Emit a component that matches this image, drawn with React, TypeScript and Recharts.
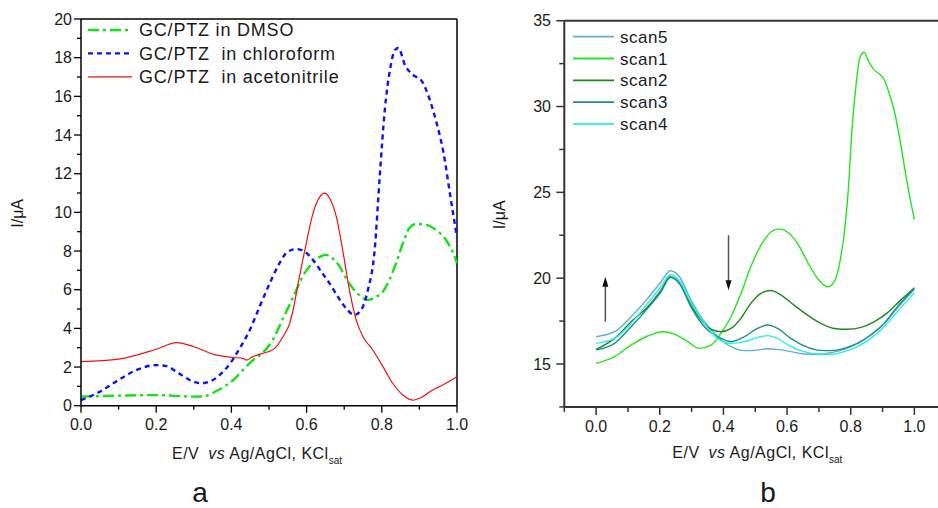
import { LineChart, Line, XAxis, YAxis, ReferenceLine } from 'recharts'

const FONT = '"Liberation Sans", Arial, Helvetica, sans-serif'

// panel a: GC/PTZ in three solvents
const dmsoE = [0, 0.1, 0.2, 0.3, 0.325, 0.351, 0.378, 0.405, 0.431, 0.457, 0.484, 0.51, 0.537, 0.564, 0.59, 0.617, 0.639, 0.652, 0.67, 0.688, 0.705, 0.723, 0.745, 0.763, 0.785, 0.803, 0.82, 0.838, 0.856, 0.873, 0.891, 0.918, 0.944, 0.971, 0.988, 1.0]
const dmsoI = [0.47, 0.52, 0.55, 0.47, 0.48, 0.67, 0.95, 1.33, 1.85, 2.35, 2.75, 3.4, 4.5, 5.6, 6.7, 7.4, 7.74, 7.8, 7.6, 7.19, 6.59, 6.07, 5.64, 5.47, 5.64, 5.9, 6.5, 7.37, 8.4, 9.18, 9.4, 9.35, 9.09, 8.57, 7.97, 7.37]

const chloroE = [0, 0.05, 0.1, 0.148, 0.2, 0.227, 0.254, 0.289, 0.32, 0.351, 0.378, 0.4, 0.422, 0.449, 0.475, 0.502, 0.528, 0.55, 0.573, 0.595, 0.617, 0.639, 0.661, 0.683, 0.705, 0.727, 0.745, 0.763, 0.781, 0.795, 0.808, 0.822, 0.835, 0.844, 0.862, 0.884, 0.906, 0.928, 0.946, 0.964, 0.981, 1.0]
const chloroI = [0.29, 0.72, 1.33, 1.85, 2.1, 2.05, 1.76, 1.33, 1.16, 1.33, 1.76, 2.28, 2.97, 3.92, 5.12, 6.33, 7.37, 7.97, 8.1, 7.97, 7.54, 6.93, 6.33, 5.64, 5.04, 4.69, 4.95, 5.98, 8.05, 12.0, 15.3, 17.4, 18.4, 18.5, 17.6, 17.1, 16.8, 15.8, 14.6, 13.1, 11.0, 8.7]

const acnE = [0, 0.1, 0.2, 0.254, 0.3, 0.351, 0.4, 0.431, 0.44, 0.457, 0.484, 0.5, 0.52, 0.537, 0.555, 0.564, 0.581, 0.599, 0.617, 0.635, 0.648, 0.661, 0.679, 0.696, 0.714, 0.732, 0.75, 0.776, 0.803, 0.829, 0.856, 0.882, 0.909, 0.935, 0.962, 1.0]
const acnI = [2.28, 2.41, 2.92, 3.26, 3.05, 2.67, 2.5, 2.45, 2.36, 2.54, 2.71, 2.8, 3.05, 3.57, 4.26, 4.95, 6.67, 8.4, 9.95, 10.8, 10.99, 10.73, 9.78, 8.05, 5.98, 4.43, 3.57, 2.88, 2.02, 1.16, 0.55, 0.29, 0.47, 0.81, 1.07, 1.5]

// panel b: successive scans
const scan1E = [0, 0.058, 0.11, 0.162, 0.209, 0.246, 0.288, 0.324, 0.361, 0.392, 0.424, 0.455, 0.486, 0.518, 0.549, 0.575, 0.601, 0.633, 0.664, 0.696, 0.727, 0.748, 0.767, 0.782, 0.793, 0.803, 0.817, 0.829, 0.842, 0.855, 0.871, 0.892, 0.902, 0.918, 0.939, 0.955, 0.976, 1.0]
const scan1I = [15.04, 15.43, 16.1, 16.63, 16.88, 16.74, 16.3, 15.91, 16.1, 16.78, 17.75, 19.1, 20.66, 21.92, 22.69, 22.87, 22.69, 22.02, 20.95, 19.98, 19.5, 19.79, 21.05, 22.98, 25.3, 28.41, 31.32, 32.87, 33.16, 32.67, 32.19, 31.86, 31.67, 30.93, 29.58, 28.02, 25.7, 23.41]

const scan2E = [0, 0.058, 0.11, 0.162, 0.204, 0.233, 0.262, 0.298, 0.33, 0.361, 0.392, 0.424, 0.455, 0.486, 0.518, 0.549, 0.581, 0.622, 0.664, 0.706, 0.748, 0.79, 0.832, 0.873, 0.915, 0.957, 1.0]
const scan2I = [15.85, 16.49, 17.46, 18.33, 19.3, 20.08, 19.69, 18.43, 17.56, 17.03, 16.88, 17.07, 17.66, 18.53, 19.11, 19.28, 19.01, 18.43, 17.85, 17.36, 17.07, 17.02, 17.13, 17.46, 17.98, 18.72, 19.44]

const scanE = [0, 0.058, 0.11, 0.162, 0.204, 0.233, 0.262, 0.298, 0.34, 0.382, 0.424, 0.466, 0.507, 0.539, 0.57, 0.612, 0.654, 0.696, 0.738, 0.779, 0.821, 0.863, 0.905, 0.946, 1.0]
const scan3I = [15.82, 16.2, 17.17, 18.24, 19.2, 20.04, 19.69, 18.33, 17.17, 16.59, 16.3, 16.59, 17.07, 17.27, 17.07, 16.49, 16.05, 15.81, 15.78, 15.91, 16.2, 16.69, 17.36, 18.33, 19.4]
const scan4I = [16.2, 16.49, 17.36, 18.53, 19.5, 20.2, 19.85, 18.6, 17.36, 16.49, 16.2, 16.3, 16.55, 16.65, 16.49, 16.01, 15.72, 15.58, 15.56, 15.72, 16.01, 16.49, 17.17, 18.04, 19.15]
const scan5I = [16.59, 16.88, 17.75, 18.82, 19.79, 20.43, 20.08, 18.72, 17.46, 16.59, 16.01, 15.78, 15.81, 15.89, 15.85, 15.72, 15.58, 15.56, 15.66, 15.85, 16.2, 16.69, 17.36, 18.24, 19.34]

const ticksXA = [0, 0.1, 0.2, 0.3, 0.4, 0.5, 0.6, 0.7, 0.8, 0.9, 1.0]
const ticksYA = [0, 1, 2, 3, 4, 5, 6, 7, 8, 9, 10, 11, 12, 13, 14, 15, 16, 17, 18, 19, 20]
const ticksXB = [-0.1, 0, 0.1, 0.2, 0.3, 0.4, 0.5, 0.6, 0.7, 0.8, 0.9, 1.0, 1.1]
const ticksYB = [12.5, 15, 17.5, 20, 22.5, 25, 27.5, 30, 32.5, 35]

const legendA = ['GC/PTZ in DMSO', 'GC/PTZ  in chloroform', 'GC/PTZ  in acetonitrile']
const legendB = ['scan5', 'scan1', 'scan2', 'scan3', 'scan4']

const zip = (e: number[], i: number[]) => e.map((v, k) => ({ e: v, i: i[k] }))

const evenTenth = (v: number) => Math.round(v * 10) % 2 === 0
const evenInt = (v: number) => v % 2 === 0
const fifth = (v: number) => v % 5 === 0

function BottomTick(props: any) {
  const { x, y, payload, cfg } = props
  const v = payload.value
  const big = cfg.major(v)
  return (
    <g>
      <line x1={x} y1={y} x2={x} y2={y + (big ? cfg.majorLen : cfg.minorLen)} stroke={cfg.stroke} strokeWidth={cfg.sw} />
      {big && (
        <text x={x} y={y + cfg.gap} textAnchor="middle" fontSize={16} fontFamily={FONT} fill="#1a1a1a">
          {Number(v).toFixed(1)}
        </text>
      )}
    </g>
  )
}

function LeftTick(props: any) {
  const { x, y, payload, cfg } = props
  const v = payload.value
  const big = cfg.major(v)
  return (
    <g>
      <line x1={x} y1={y} x2={x - (big ? cfg.majorLen : cfg.minorLen)} y2={y} stroke={cfg.stroke} strokeWidth={cfg.sw} />
      {big && (
        <text x={x - cfg.gap} y={y} dy="0.36em" textAnchor="end" fontSize={16} fontFamily={FONT} fill="#1a1a1a">
          {v}
        </text>
      )}
    </g>
  )
}

function XTitle(props: any) {
  const vb = props.viewBox || { x: 0, y: 0 }
  const x = vb.x + props.dx
  const y = vb.y + props.dy
  return (
    <text x={x} y={y} fontSize={16} fontFamily={FONT} fill="#1a1a1a" letterSpacing={0.5}>
      <tspan>E/V</tspan>
      <tspan dx={9} fontStyle="italic">vs</tspan>
      <tspan dx={4}>Ag/AgCl, KCl</tspan>
      <tspan dy={5} fontSize={10} letterSpacing={0}>sat</tspan>
    </text>
  )
}

function YTitle(props: any) {
  const vb = props.viewBox || { x: 0, y: 0, height: 0 }
  const x = vb.x + props.dx
  const y = vb.y + vb.height / 2 + 1
  return (
    <text x={x} y={y} transform={`rotate(-90 ${x} ${y})`} textAnchor="middle" fontSize={16} fontFamily={FONT} fill="#1a1a1a">
      I/μA
    </text>
  )
}

function Arrow(props: any) {
  const { x1, y1, x2, y2 } = props
  const dir = y2 < y1 ? 1 : -1
  return (
    <g>
      <line x1={x1} y1={y1} x2={x2} y2={y2 + dir * 8} stroke="#555" strokeWidth={1.5} />
      <polygon points={`${x2},${y2} ${x2 - 3},${y2 + dir * 10} ${x2 + 3},${y2 + dir * 10}`} fill="#111" />
    </g>
  )
}

const cfgA = { stroke: '#000', sw: 1.3, majorLen: 7, minorLen: 4 }
const cfgB = { stroke: '#333', sw: 1.5, majorLen: 8, minorLen: 5 }

function PanelA() {
  return (
    <LineChart width={470} height={508} margin={{ top: 19, right: 13, left: 0, bottom: 0 }}>
      <XAxis
        dataKey="e"
        type="number"
        domain={[0, 1]}
        ticks={ticksXA}
        interval={0}
        tickSize={0}
        tickMargin={0}
        height={102.3}
        axisLine={{ stroke: '#000', strokeWidth: 1.5 }}
        tickLine={false}
        tick={<BottomTick cfg={{ ...cfgA, major: evenTenth, gap: 24.5 }} />}
        label={(p: any) => <XTitle {...p} dx={91} dy={53.3} />}
      />
      <YAxis
        type="number"
        domain={[0, 20]}
        ticks={ticksYA}
        interval={0}
        tickSize={0}
        tickMargin={0}
        width={81}
        axisLine={{ stroke: '#000', strokeWidth: 1.5 }}
        tickLine={false}
        tick={<LeftTick cfg={{ ...cfgA, major: evenInt, gap: 9 }} />}
        label={(p: any) => <YTitle {...p} dx={23} />}
      />
      <ReferenceLine y={20} stroke="#000" strokeWidth={1.5} />
      <ReferenceLine x={1} stroke="#000" strokeWidth={1.5} />
      <Line data={zip(dmsoE, dmsoI)} dataKey="i" type="monotone" stroke="#16e016" strokeWidth={2.4} strokeDasharray="11 4 3 4" dot={false} isAnimationActive={false} />
      <Line data={zip(chloroE, chloroI)} dataKey="i" type="monotone" stroke="#0a14f0" strokeWidth={2.4} strokeDasharray="5 4" dot={false} isAnimationActive={false} />
      <Line data={zip(acnE, acnI)} dataKey="i" type="monotone" stroke="#f01010" strokeWidth={1.2} dot={false} isAnimationActive={false} />
    </LineChart>
  )
}

const scanColors = ['#5eaecd', '#22e622', '#1b8a1b', '#238a8a', '#20f0f0']

function PanelB() {
  const series = [zip(scanE, scan5I), zip(scan1E, scan1I), zip(scan2E, scan2I), zip(scanE, scan3I), zip(scanE, scan4I)]
  return (
    <LineChart width={480} height={508} margin={{ top: 20.7, right: 3.8, left: 0, bottom: 0 }}>
      <XAxis
        dataKey="e"
        type="number"
        domain={[-0.1, 1.1]}
        ticks={ticksXB}
        interval={0}
        tickSize={0}
        tickMargin={0}
        height={101.1}
        axisLine={{ stroke: '#333', strokeWidth: 2 }}
        tickLine={false}
        tick={<BottomTick cfg={{ ...cfgB, major: (v: number) => v >= 0 && v <= 1 && evenTenth(v), gap: 24.8 }} />}
        label={(p: any) => <XTitle {...p} dx={108} dy={51.4} />}
      />
      <YAxis
        type="number"
        domain={[12.5, 35]}
        ticks={ticksYB}
        interval={0}
        tickSize={0}
        tickMargin={0}
        width={94.3}
        axisLine={{ stroke: '#333', strokeWidth: 2 }}
        tickLine={false}
        tick={<LeftTick cfg={{ ...cfgB, major: fifth, gap: 13.3 }} />}
        label={(p: any) => <YTitle {...p} dx={35} />}
      />
      <ReferenceLine y={35} stroke="#333" strokeWidth={2} />
      {series.map((d, k) => (
        <Line key={legendB[k]} data={d} dataKey="i" type="monotone" stroke={scanColors[k]} strokeWidth={1.4} dot={false} isAnimationActive={false} />
      ))}
      <ReferenceLine segment={[{ x: 0.029, y: 17.46 }, { x: 0.029, y: 20.08 }]} shape={(p: any) => <Arrow {...p} />} />
      <ReferenceLine segment={[{ x: 0.416, y: 22.5 }, { x: 0.416, y: 19.3 }]} shape={(p: any) => <Arrow {...p} />} />
    </LineChart>
  )
}

function Overlay() {
  const dashes = ['11 4 3 4', '5 4', undefined]
  const colorsA = ['#16e016', '#0a14f0', '#f01010']
  const widthsA = [2.4, 2.4, 1.2]
  return (
    <svg width={938} height={508} style={{ position: 'absolute', left: 0, top: 0, pointerEvents: 'none' }}>
      {legendA.map((t, k) => {
        const y = 30 + k * 23.4
        return (
          <g key={t}>
            <line x1={88} y1={y} x2={132} y2={y} stroke={colorsA[k]} strokeWidth={widthsA[k]} strokeDasharray={dashes[k]} />
            <text x={139} y={y + 6.4} fontSize={18} fontFamily={FONT} fill="#1a1a1a" letterSpacing={0.8} style={{ whiteSpace: 'pre' }}>
              {t}
            </text>
          </g>
        )
      })}
      {legendB.map((t, k) => {
        const y = 36.7 + k * 21.8
        return (
          <g key={t}>
            <line x1={573} y1={y} x2={614} y2={y} stroke={scanColors[k]} strokeWidth={1.8} />
            <text x={620} y={y + 6} fontSize={17} fontFamily={FONT} fill="#1a1a1a" letterSpacing={0.5}>
              {t}
            </text>
          </g>
        )
      })}
      <text x={200} y={502} textAnchor="middle" fontSize={28} fontFamily={FONT} fill="#1a1a1a">a</text>
      <text x={768} y={502} textAnchor="middle" fontSize={28} fontFamily={FONT} fill="#1a1a1a">b</text>
    </svg>
  )
}

export default function App() {
  return (
    <div style={{ position: 'absolute', left: 0, top: 0, width: 938, height: 508, overflow: 'hidden', background: '#fff' }}>
      <div style={{ position: 'absolute', left: 0, top: 0 }}>
        <PanelA />
      </div>
      <div style={{ position: 'absolute', left: 470, top: 0 }}>
        <PanelB />
      </div>
      <Overlay />
    </div>
  )
}
